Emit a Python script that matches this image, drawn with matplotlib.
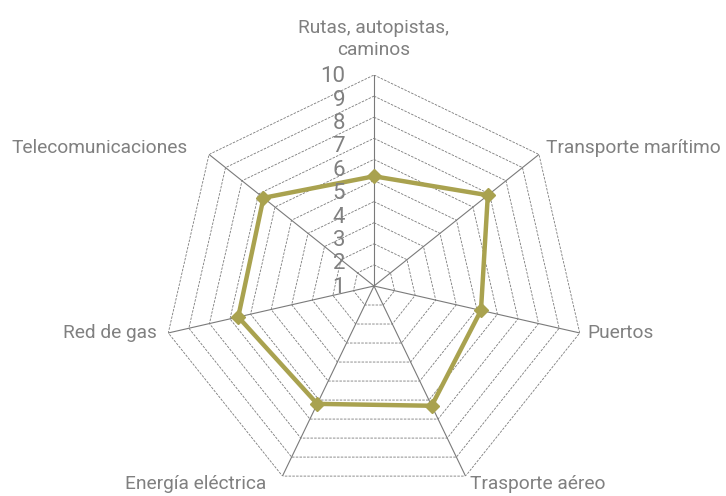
import numpy as np
import matplotlib
matplotlib.use("Agg")
import matplotlib.pyplot as plt

categories = ["Rutas, autopistas,\ncaminos", "Transporte marítimo", "Puertos",
              "Trasporte aéreo", "Energía eléctrica", "Red de gas", "Telecomunicaciones"]
values = [5.2, 6.9, 5.2, 6.3, 6.2, 6.6, 6.7]
ring_levels = [1, 2, 3, 4, 5, 6, 7, 8, 9, 10]
tick_labels = ["1", "2", "3", "4", "5", "6", "7", "8", "9", "10"]

FONT = ['Roboto', 'DejaVu Sans']
TXT = '#808080'
LINE = '#a9a24f'
GRID = '#7a7a7a'

W, H = 726, 496
fig = plt.figure(figsize=(W / 100, H / 100), dpi=100)
cx, cy, R = 374, 286, 211
ax = fig.add_axes([(cx - R) / W, (H - cy - R) / H, 2 * R / W, 2 * R / H], projection='polar')
ax.set_theta_zero_location('N')
ax.set_theta_direction(-1)
ax.set_ylim(0, 10)
ax.axis('off')

n = len(categories)
theta = np.arange(n) * 2 * np.pi / n
theta_closed = np.append(theta, theta[0])

for lv in ring_levels:
    ax.plot(theta_closed, [lv] * (n + 1), color=GRID, lw=0.6, ls=(0, (3, 1.5)), zorder=1)
for t in theta:
    ax.plot([t, t], [0, 10], color=GRID, lw=0.8, zorder=1)

v_closed = values + [values[0]]
ax.plot(theta_closed, v_closed, color=LINE, lw=3.2, zorder=3, solid_joinstyle='miter')
ax.plot(theta, values, ls='none', marker='D', ms=7, color=LINE, zorder=4)

# category labels
offsets = [(0, 16, 'center', 'bottom'), (7, 6, 'left', 'center'), (8, 0, 'left', 'center'),
           (4, -8, 'left', 'center'), (-16, -8, 'right', 'center'), (-11, 0, 'right', 'center'),
           (-21, 6, 'right', 'center')]
for t, lab, (dx, dy, ha, va) in zip(theta, categories, offsets):
    ax.annotate(lab, xy=(t, 10), xytext=(dx, dy), textcoords='offset pixels',
                ha=ha, va=va, fontsize=13.8, color=TXT, family=FONT,
                multialignment='center', linespacing=1.3, annotation_clip=False)

# radial tick labels
for lv, tl in zip(ring_levels, tick_labels):
    ax.annotate(tl, xy=(0, lv), xytext=(-29, -1.7 - (10 - lv) * 2.3), textcoords='offset pixels',
                ha='right', va='center', fontsize=16, color=TXT, family=FONT,
                annotation_clip=False)

fig.savefig('out.png', dpi=100)
